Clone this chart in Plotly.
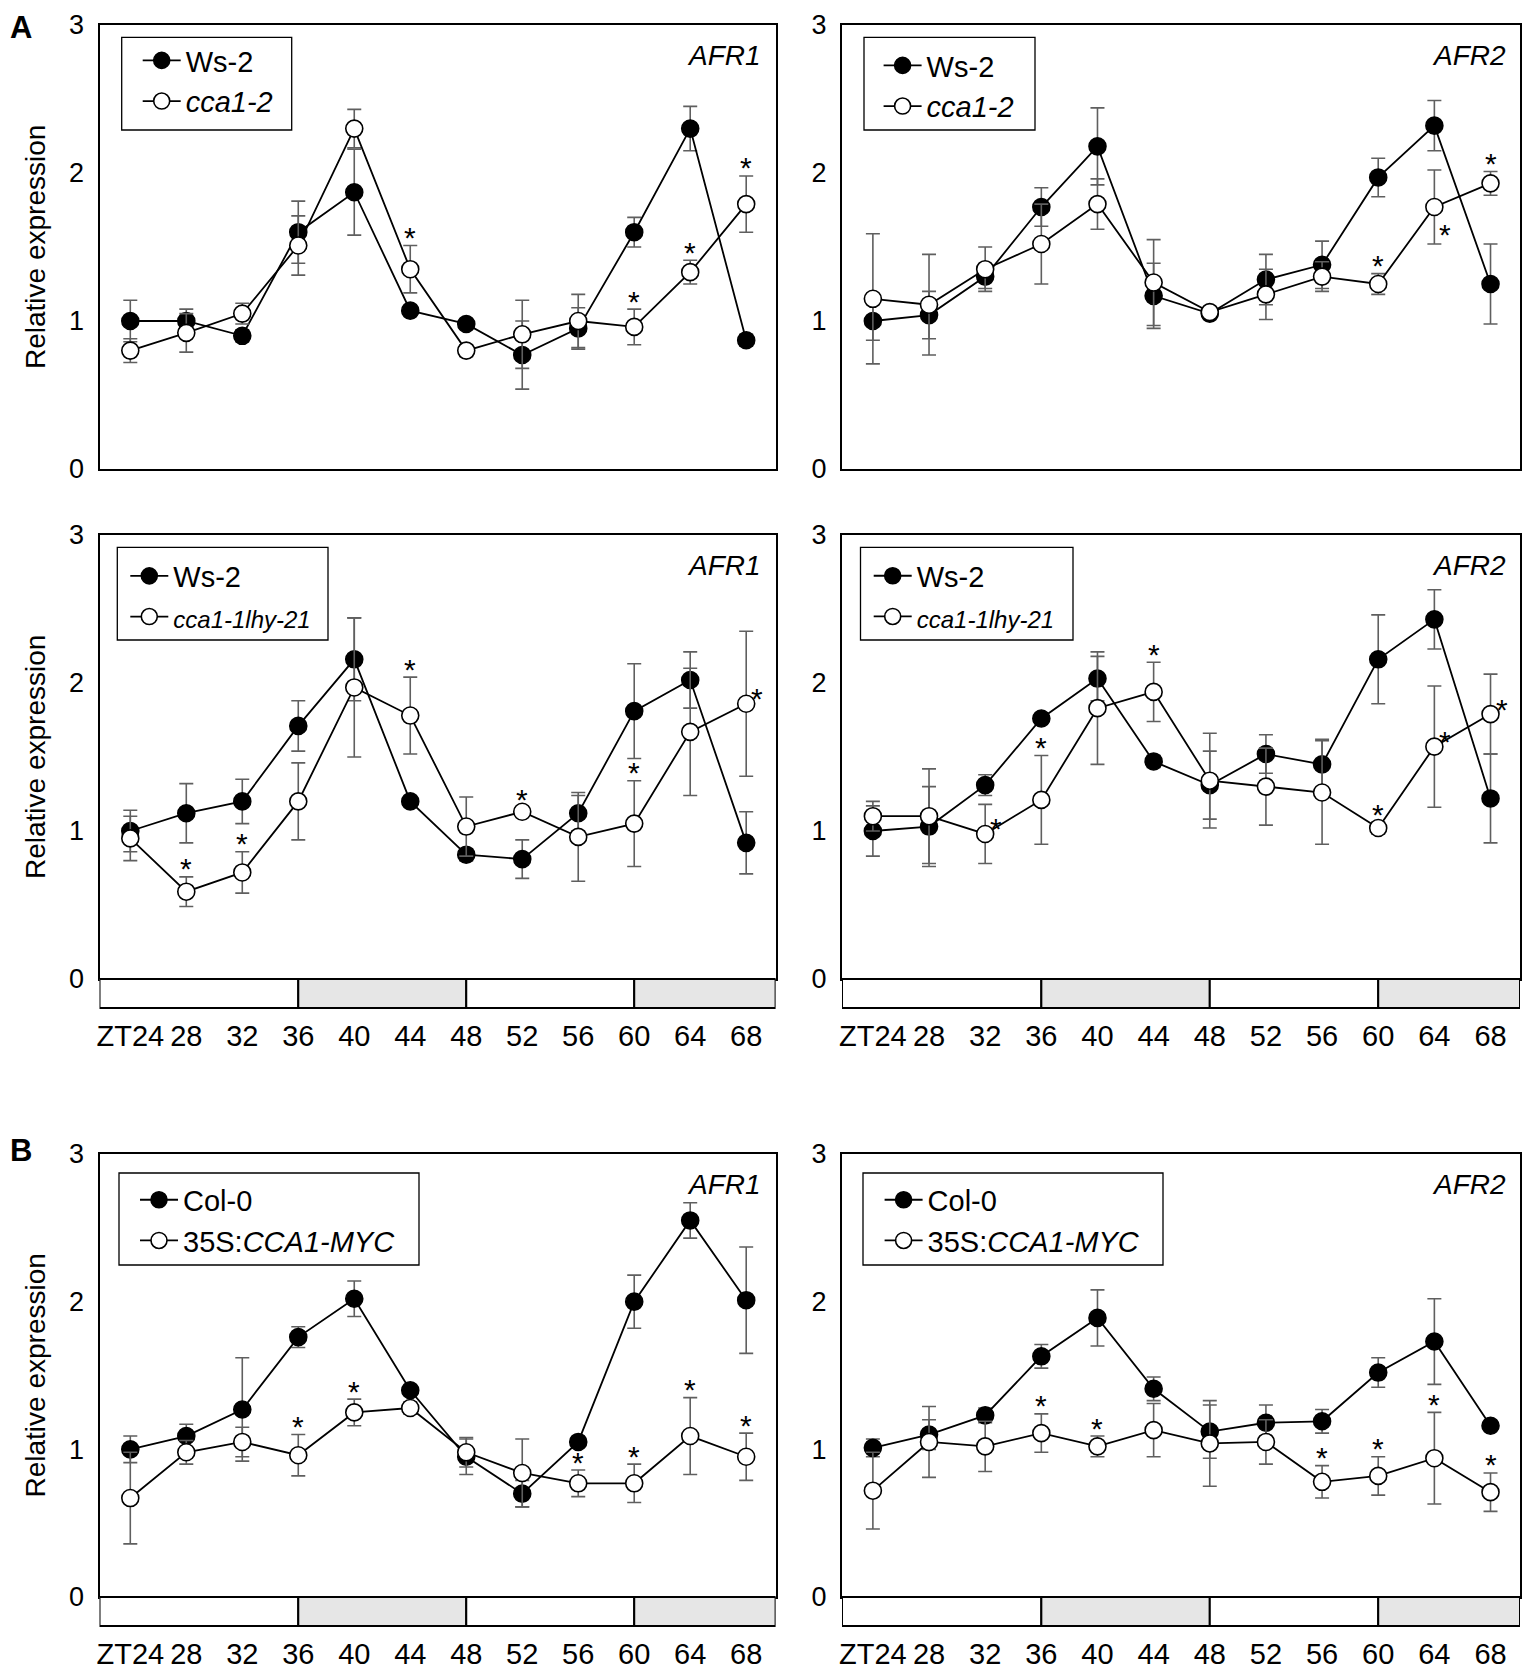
import plotly.graph_objects as go

# ---- data ----
TIMES = [24, 28, 32, 36, 40, 44, 48, 52, 56, 60, 64, 68]
TICK_TEXT = ["ZT24", "28", "32", "36", "40", "44", "48", "52", "56", "60", "64", "68"]
Y_TICKS = [0, 1, 2, 3]

# light/dark bar under the x axis (boundaries in ZT)
BAR_EDGES = [36, 48, 60]
BAR_FILLS = ["white", "#e6e6e6", "white", "#e6e6e6"]

# A, top: AFR1, Ws-2 vs cca1-2
A1_WS2 = [1.00, 1.00, 0.90, 1.60, 1.87, 1.07, 0.98, 0.77, 0.95, 1.60, 2.30, 0.87]
A1_WS2_ERR = [0.14, 0.08, 0.04, 0.21, 0.29, 0.03, 0.03, 0.23, 0.14, 0.10, 0.15, 0.04]
A1_CCA = [0.80, 0.92, 1.05, 1.51, 2.30, 1.35, 0.80, 0.91, 1.00, 0.96, 1.33, 1.79]
A1_CCA_ERR = [0.08, 0.13, 0.07, 0.20, 0.13, 0.16, 0.04, 0.23, 0.18, 0.12, 0.08, 0.19]
A1_STARS = [(44, "up"), (60, "up"), (64, "up"), (68, "up")]

# A, top: AFR2, Ws-2 vs cca1-2
A2_WS2 = [1.00, 1.04, 1.30, 1.77, 2.18, 1.17, 1.05, 1.28, 1.38, 1.97, 2.32, 1.25]
A2_WS2_ERR = [0.13, 0.16, 0.08, 0.13, 0.26, 0.22, 0.03, 0.17, 0.16, 0.13, 0.17, 0.27]
A2_CCA = [1.15, 1.11, 1.35, 1.52, 1.79, 1.26, 1.06, 1.18, 1.30, 1.25, 1.77, 1.93]
A2_CCA_ERR = [0.44, 0.34, 0.15, 0.27, 0.17, 0.29, 0.03, 0.17, 0.10, 0.07, 0.25, 0.08]
A2_STARS = [(60, "up"), (64, "se"), (68, "up")]

# A, bottom: AFR1, Ws-2 vs cca1-1lhy-21
A3_WS2 = [1.00, 1.12, 1.20, 1.71, 2.16, 1.20, 0.84, 0.81, 1.12, 1.81, 2.02, 0.92]
A3_WS2_ERR = [0.14, 0.20, 0.15, 0.17, 0.28, 0.03, 0.04, 0.13, 0.12, 0.32, 0.19, 0.21]
A3_DBL = [0.95, 0.59, 0.72, 1.20, 1.97, 1.78, 1.03, 1.13, 0.96, 1.05, 1.67, 1.86]
A3_DBL_ERR = [0.15, 0.10, 0.14, 0.26, 0.47, 0.26, 0.20, 0.03, 0.30, 0.29, 0.43, 0.49]
A3_STARS = [(28, "up"), (32, "up"), (44, "up"), (52, "up"), (60, "up"), (68, "ne")]

# A, bottom: AFR2, Ws-2 vs cca1-1lhy-21
A4_WS2 = [1.00, 1.03, 1.31, 1.76, 2.03, 1.47, 1.31, 1.52, 1.45, 2.16, 2.43, 1.22]
A4_WS2_ERR = [0.17, 0.27, 0.07, 0.03, 0.15, 0.04, 0.23, 0.13, 0.17, 0.30, 0.20, 0.30]
A4_DBL = [1.10, 1.10, 0.98, 1.21, 1.83, 1.94, 1.34, 1.30, 1.26, 1.02, 1.57, 1.79]
A4_DBL_ERR = [0.10, 0.32, 0.20, 0.30, 0.38, 0.20, 0.32, 0.26, 0.35, 0.04, 0.41, 0.27]
A4_STARS = [(32, "ne"), (36, "up"), (44, "up"), (60, "up"), (64, "ne"), (68, "ne")]

# B: AFR1, Col-0 vs 35S:CCA1-MYC
B1_COL = [1.00, 1.09, 1.27, 1.76, 2.02, 1.40, 0.95, 0.70, 1.05, 2.00, 2.55, 2.01]
B1_COL_ERR = [0.09, 0.08, 0.35, 0.07, 0.12, 0.03, 0.12, 0.09, 0.03, 0.18, 0.12, 0.36]
B1_OX = [0.67, 0.98, 1.05, 0.96, 1.25, 1.28, 0.98, 0.84, 0.77, 0.77, 1.09, 0.95]
B1_OX_ERR = [0.31, 0.08, 0.10, 0.14, 0.09, 0.04, 0.10, 0.23, 0.09, 0.13, 0.26, 0.16]
B1_STARS = [(36, "up"), (40, "up"), (56, "up"), (60, "up"), (64, "up"), (68, "up")]

# B: AFR2, Col-0 vs 35S:CCA1-MYC
B2_COL = [1.01, 1.10, 1.23, 1.63, 1.89, 1.41, 1.12, 1.18, 1.19, 1.52, 1.73, 1.16]
B2_COL_ERR = [0.06, 0.10, 0.05, 0.08, 0.19, 0.08, 0.18, 0.12, 0.08, 0.10, 0.29, 0.03]
B2_OX = [0.72, 1.05, 1.02, 1.11, 1.02, 1.13, 1.04, 1.05, 0.78, 0.82, 0.94, 0.71]
B2_OX_ERR = [0.26, 0.24, 0.17, 0.13, 0.07, 0.18, 0.29, 0.15, 0.11, 0.13, 0.31, 0.13]
B2_STARS = [(36, "up"), (40, "up"), (56, "up"), (60, "up"), (64, "up"), (68, "up")]

# ---- layout constants (page px, figure sits inside the 8px body margin) ----
OFF = 8
W, H = 1533 - 2 * OFF, 1678 - 2 * OFF
FONT = "Liberation Sans, Arial, sans-serif"
X_RANGE = [21.8, 70.1]
Y_RANGE = [0, 3]


def px(x):
    return (x - OFF) / W


def py(y):
    return 1 - (y - OFF) / H


COL_PX = [(99.5, 775.6), (842, 1520)]
ROW_PX = [(25, 469), (535, 979), (1154, 1597)]
BAR_H = 29 / 444
# legend frames (left, top, right, bottom) and legend top-left (x, y) in page px
LEGEND_BOX = [(121.7, 37.3, 291.7, 130), (864, 37.3, 1035, 130),
              (117.3, 547.3, 328, 640), (860.5, 547.3, 1073, 640),
              (119, 1173, 419, 1265), (863, 1173, 1163, 1265)]
LEGEND_AT = [(137.7, 35), (878.6, 40), (125.3, 550.5),
             (868.7, 550.4), (135, 1174.4), (879.6, 1174.4)]
ERR_COLOR = "#5f5f5f"
STAR_SHIFT = {"up": (0, 8), "ne": (11, 5), "se": (11, -27)}

DBL_NAME = '<span style="font-size:24px"><i>cca1-1lhy-21</i></span>'

panels = [
    dict(gene="AFR1", names=("Ws-2", "<i>cca1-2</i>"), wt=A1_WS2, wt_err=A1_WS2_ERR,
         mut=A1_CCA, mut_err=A1_CCA_ERR, stars=A1_STARS, row=0, col=0),
    dict(gene="AFR2", names=("Ws-2", "<i>cca1-2</i>"), wt=A2_WS2, wt_err=A2_WS2_ERR,
         mut=A2_CCA, mut_err=A2_CCA_ERR, stars=A2_STARS, row=0, col=1),
    dict(gene="AFR1", names=("Ws-2", DBL_NAME), wt=A3_WS2, wt_err=A3_WS2_ERR,
         mut=A3_DBL, mut_err=A3_DBL_ERR, stars=A3_STARS, row=1, col=0),
    dict(gene="AFR2", names=("Ws-2", DBL_NAME), wt=A4_WS2, wt_err=A4_WS2_ERR,
         mut=A4_DBL, mut_err=A4_DBL_ERR, stars=A4_STARS, row=1, col=1),
    dict(gene="AFR1", names=("Col-0", "35S:<i>CCA1-MYC</i>"), wt=B1_COL, wt_err=B1_COL_ERR,
         mut=B1_OX, mut_err=B1_OX_ERR, stars=B1_STARS, row=2, col=0),
    dict(gene="AFR2", names=("Col-0", "35S:<i>CCA1-MYC</i>"), wt=B2_COL, wt_err=B2_COL_ERR,
         mut=B2_OX, mut_err=B2_OX_ERR, stars=B2_STARS, row=2, col=1),
]

fig = go.Figure()
annotations = []
shapes = []
layout = dict(
    width=W, height=H, margin=dict(l=0, r=0, t=0, b=0, autoexpand=False),
    paper_bgcolor="white", plot_bgcolor="white",
    font=dict(family=FONT, size=27, color="black"),
)

for i, p in enumerate(panels):
    n = i + 1
    sfx = "" if n == 1 else str(n)
    xref, yref = "x" + sfx, "y" + sfx
    leg = "legend" + sfx

    for name, vals, errs, fill in [(p["names"][0], p["wt"], p["wt_err"], "black"),
                                   (p["names"][1], p["mut"], p["mut_err"], "white")]:
        fig.add_trace(go.Scatter(
            x=TIMES, y=vals, name=name, mode="lines+markers",
            xaxis=xref, yaxis=yref, legend=leg,
            line=dict(color="black", width=1.8),
            marker=dict(size=17, color=fill, line=dict(color="black", width=1.6)),
            error_y=dict(type="data", array=errs, visible=True, color=ERR_COLOR,
                         thickness=1.6, width=7),
        ))

    has_bar = p["row"] > 0
    cx0, cx1 = COL_PX[p["col"]]
    ry0, ry1 = ROW_PX[p["row"]]
    layout["xaxis" + sfx] = dict(
        domain=[px(cx0), px(cx1)], range=X_RANGE, anchor=yref, automargin=False,
        tickmode="array", tickvals=TIMES, ticktext=TICK_TEXT,
        showticklabels=has_bar, ticks="", ticklabelstandoff=30,
        tickfont=dict(size=29),
        showline=True, mirror=True, linecolor="black", linewidth=2,
        showgrid=False, zeroline=False,
    )
    layout["yaxis" + sfx] = dict(
        domain=[py(ry1), py(ry0)], range=Y_RANGE, anchor=xref, automargin=False,
        tickmode="array", tickvals=Y_TICKS, ticks="", ticklabelstandoff=8,
        tickfont=dict(size=27),
        showline=True, mirror=True, linecolor="black", linewidth=2,
        showgrid=False, zeroline=False,
    )

    # legend: plotly legend inside a drawn frame
    bl, bt, br, bb = LEGEND_BOX[i]
    lx, ly = LEGEND_AT[i]
    layout[leg] = dict(
        x=px(lx), y=py(ly), xanchor="left", yanchor="top",
        borderwidth=0, bgcolor="rgba(0,0,0,0)",
        font=dict(size=29), itemwidth=38,
    )
    shapes.append(dict(
        type="rect", xref="paper", yref="paper",
        x0=px(bl), x1=px(br), y0=py(bb), y1=py(bt),
        fillcolor="white", line=dict(color="black", width=1.3), layer="below",
    ))

    # gene name
    annotations.append(dict(
        text="<i>%s</i>" % p["gene"], xref=xref + " domain", yref=yref + " domain",
        x=0.982, y=0.932, xanchor="right", yanchor="middle", showarrow=False,
        font=dict(size=28),
    ))

    # y axis title on left column
    if p["col"] == 0:
        annotations.append(dict(
            text="Relative expression", xref="paper", yref="paper",
            x=px(35), y=(py(ry0) + py(ry1)) / 2, textangle=-90, showarrow=False,
            xanchor="center", yanchor="middle", font=dict(size=28),
        ))

    # significance stars
    for t, pos in p["stars"]:
        k = TIMES.index(t)
        yv = p["mut"][k] + (p["mut_err"][k] if pos == "up" else 0)
        dx, dy = STAR_SHIFT[pos]
        annotations.append(dict(
            text="*", xref=xref, yref=yref, x=t, y=yv, xshift=dx, yshift=dy,
            xanchor="center", yanchor="middle", showarrow=False, font=dict(size=30),
        ))

    # light / dark bar
    if has_bar:
        edges = [X_RANGE[0]] + BAR_EDGES + [X_RANGE[1]]
        for a, b, c in zip(edges[:-1], edges[1:], BAR_FILLS):
            shapes.append(dict(
                type="rect", xref=xref, yref=yref + " domain",
                x0=a, x1=b, y0=-BAR_H, y1=0, fillcolor=c,
                line=dict(color="black", width=2), layer="above",
            ))

# panel letters
annotations.append(dict(text="<b>A</b>", xref="paper", yref="paper", x=0, y=1,
                        xanchor="left", yanchor="top", showarrow=False, font=dict(size=31)))
annotations.append(dict(text="<b>B</b>", xref="paper", yref="paper", x=0, y=py(1131),
                        xanchor="left", yanchor="top", showarrow=False, font=dict(size=31)))

layout["annotations"] = annotations
layout["shapes"] = shapes
fig.update_layout(**layout)

fig.write_html("out.html")
